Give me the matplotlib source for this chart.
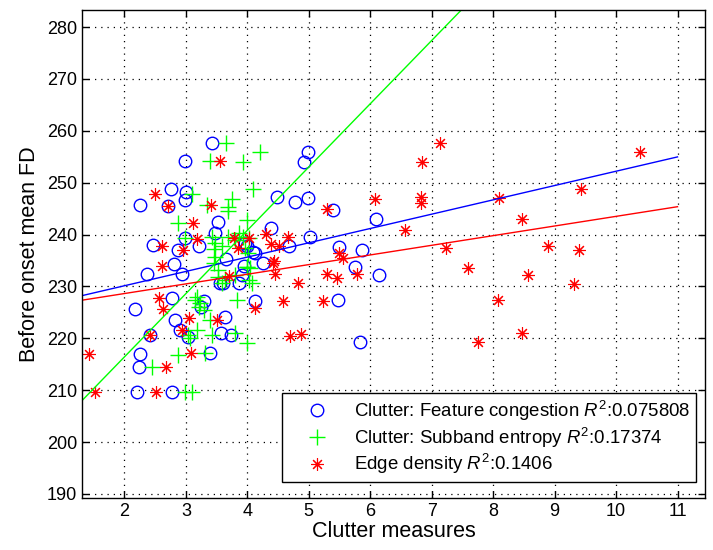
import numpy as np
import matplotlib
matplotlib.use('Agg')
import matplotlib.pyplot as plt

plt.rcParams['font.family'] = ['Liberation Sans', 'DejaVu Sans']
plt.rcParams['mathtext.fontset'] = 'custom'
plt.rcParams['mathtext.rm'] = 'Liberation Sans'
plt.rcParams['mathtext.it'] = 'Liberation Sans:italic'

# Clutter: Feature congestion (blue circles)
fc_x = [3.42, 2.98, 2.76, 3.00, 2.98, 2.25, 2.71, 3.53, 2.47, 2.88, 2.99, 3.21, 3.47,
        2.80, 4.98, 4.93, 4.49, 4.77, 4.98, 5.39, 6.10, 4.39, 5.02, 4.68, 5.50, 5.87,
        4.09, 4.26, 5.75, 3.99, 2.37, 2.93, 2.77, 2.18, 3.29, 2.83, 2.91, 3.04, 2.42,
        3.64, 3.57, 3.74, 2.26, 2.23, 3.40, 2.20, 2.78, 3.25, 3.61, 3.94, 6.15, 5.48,
        4.12, 5.83, 3.65, 3.96, 4.13, 3.91, 3.86, 3.56]
fc_y = [257.7, 254.1, 248.7, 248.1, 246.7, 245.6, 245.4, 242.5, 237.9, 237.0, 239.3, 237.7, 240.2,
        234.3, 255.9, 253.9, 247.3, 246.2, 247.0, 244.7, 242.9, 241.2, 239.6, 237.8, 237.5, 237.0,
        236.7, 234.5, 233.8, 237.7, 232.4, 232.4, 227.7, 225.7, 227.1, 223.5, 221.6, 220.3, 220.7,
        224.1, 221.1, 220.7, 216.9, 214.4, 217.1, 209.7, 209.6, 226.0, 230.6, 233.9, 232.1, 227.4,
        227.1, 219.2, 235.3, 238.3, 236.5, 232.2, 230.6, 230.6]

# Clutter: Subband entropy (green pluses)
se_x = [3.65, 3.40, 3.93, 3.10, 3.34, 3.75, 3.69, 3.69, 2.88, 3.99, 2.99, 3.42, 3.48,
        3.45, 3.48, 3.86, 3.80, 4.02, 4.20, 4.09, 3.93, 4.01, 3.99, 3.45, 3.53, 3.64,
        3.59, 3.80, 3.99, 4.02, 3.15, 3.21, 3.29, 3.83, 3.40, 3.18, 3.04, 3.42, 3.80,
        3.99, 2.88, 3.31, 2.45, 2.99, 3.10, 3.07, 4.07, 3.59, 3.69, 4.05, 3.96, 3.53,
        3.18, 3.23]
se_y = [257.7, 254.1, 253.9, 247.8, 245.6, 246.8, 245.3, 244.6, 242.3, 242.8, 239.3, 239.6, 238.3,
        237.2, 235.7, 240.2, 239.0, 239.3, 255.9, 248.7, 239.6, 236.4, 233.8, 234.5, 233.2, 231.3,
        230.6, 232.2, 233.8, 231.3, 227.4, 226.1, 225.5, 227.4, 223.5, 221.6, 220.7, 220.7, 221.0,
        219.1, 216.8, 217.1, 214.4, 209.7, 209.7, 220.0, 230.6, 237.7, 239.6, 233.5, 237.4, 231.9,
        228.0, 226.8]

# Edge density (red asterisks)
ed_x = [3.55, 2.50, 2.71, 3.41, 3.11, 2.61, 2.96, 3.18, 3.78, 3.85, 4.02, 2.61, 6.07,
        5.29, 6.56, 4.30, 4.39, 4.52, 4.66, 4.42, 5.49, 5.56, 7.13, 6.85, 10.39, 6.82,
        6.82, 9.43, 8.09, 8.47, 7.24, 8.89, 9.39, 7.59, 8.57, 9.31, 8.08, 8.47, 7.76,
        4.45, 4.83, 5.30, 5.46, 5.79, 4.58, 5.23, 4.12, 4.69, 4.88, 2.56, 2.63, 3.05,
        3.50, 2.93, 2.42, 1.43, 3.09, 2.67, 1.52, 2.51, 3.70, 4.43]
ed_y = [254.1, 247.8, 245.5, 245.6, 242.3, 237.8, 237.0, 239.1, 239.3, 237.4, 239.3, 233.9, 246.8,
        244.9, 240.9, 240.1, 238.2, 237.7, 239.6, 234.5, 236.5, 235.4, 257.7, 253.9, 255.9, 247.3,
        246.1, 248.7, 247.1, 242.9, 237.4, 237.7, 237.0, 233.5, 232.2, 230.5, 227.4, 221.1, 219.2,
        232.4, 230.7, 232.4, 231.6, 232.4, 227.1, 227.1, 225.8, 220.5, 220.8, 227.7, 225.6, 223.9,
        223.5, 221.6, 220.7, 216.9, 217.1, 214.4, 209.6, 209.7, 232.0, 234.8]

# linear fits (slope, intercept)
fc_fit = [2.76, 224.6]
se_fit = [12.2, 192.0]
ed_fit = [1.86, 224.9]
fit_range = [1.3, 11]

x_ticks = [2, 3, 4, 5, 6, 7, 8, 9, 10, 11]
y_ticks = [190, 200, 210, 220, 230, 240, 250, 260, 270, 280]

fig = plt.figure(figsize=(7.13, 5.5), dpi=100)
ax = fig.add_axes([0.115, 0.0945, 0.874, 0.8875])

blue = (0, 0, 1)
green = (0, 1, 0)
red = (1, 0, 0)

ax.plot(fc_x, fc_y, 'o', mfc='none', mec=blue, ms=9, mew=1.0,
        label='Clutter: Feature congestion $R^2$:0.075808')
ax.plot(se_x, se_y, '+', color=green, ms=11, mew=1.0,
        label='Clutter: Subband entropy $R^2$:0.17374')
ax.plot(ed_x, ed_y, linestyle='none', marker=(8, 2, 0), color=red, ms=9, mew=0.8,
        label='Edge density $R^2$:0.1406')

xf = np.array(fit_range)
ax.plot(xf, fc_fit[0] * xf + fc_fit[1], color=blue, lw=1.0)
ax.plot(xf, se_fit[0] * xf + se_fit[1], color=green, lw=1.0)
ax.plot(xf, ed_fit[0] * xf + ed_fit[1], color=red, lw=1.0)

ax.set_xlim(1.31, 11.45)
ax.set_ylim(189.2, 283.3)
ax.set_xticks(x_ticks)
ax.set_yticks(y_ticks)
ax.tick_params(direction='in', top=True, right=True, labelsize=13, length=5, width=1)
ax.grid(True, color='black', linestyle=(0, (1, 4)), linewidth=0.9)
for s in ax.spines.values():
    s.set_linewidth(1.0)

ax.set_xlabel('Clutter measures', fontsize=15.5, labelpad=1)
ax.set_ylabel('Before onset mean FD', fontsize=15.5, labelpad=5)

leg = ax.legend(loc='lower right', bbox_to_anchor=(0.9856, 0.0328), numpoints=1,
                fontsize=13.4, fancybox=False, framealpha=1, edgecolor='black',
                borderaxespad=0, handlelength=3.2, handletextpad=0.4,
                labelspacing=0.15, borderpad=0.3)
leg.get_frame().set_linewidth(1.0)

fig.savefig('out.png', dpi=100)
